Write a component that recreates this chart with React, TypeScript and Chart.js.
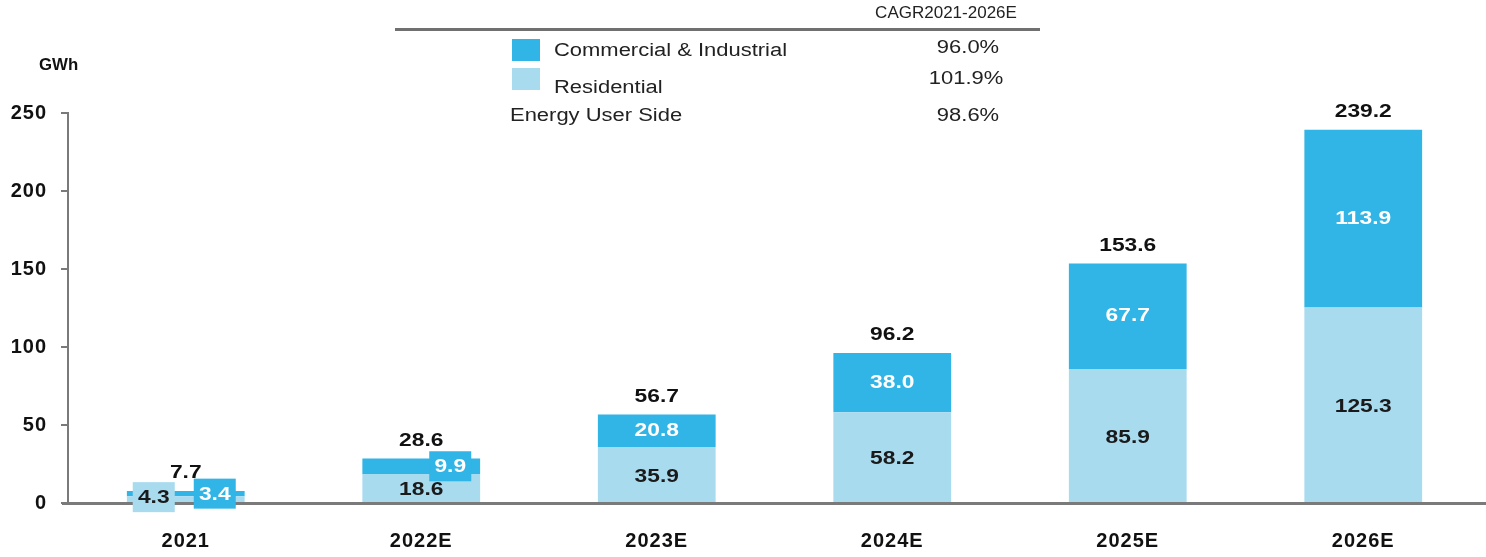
import React, { useEffect, useRef } from "react";
import { Chart, registerables } from "chart.js";

Chart.register(...registerables);

const categories = ["2021", "2022E", "2023E", "2024E", "2025E", "2026E"];
const residential = [4.3, 18.6, 35.9, 58.2, 85.9, 125.3];
const commercial = [3.4, 9.9, 20.8, 38.0, 67.7, 113.9];
const totals = [7.7, 28.6, 56.7, 96.2, 153.6, 239.2];
const yMax = 250;
const yStep = 50;
const unitLabel = "GWh";
const cagrTitle = "CAGR2021-2026E";
const legendLabels = ["Commercial & Industrial", "Residential", "Energy User Side"];
const cagrValues = ["96.0%", "101.9%", "98.6%"];

const C_COLOR = "#31B4E6";
const R_COLOR = "#A9DBEF";
const FONT = "'Liberation Sans', Arial, sans-serif";
const SX = 1.2;

function drawText(
  ctx: CanvasRenderingContext2D,
  text: string,
  x: number,
  y: number,
  font: string,
  color: string,
  align: CanvasTextAlign,
  sx: number
) {
  ctx.save();
  ctx.font = font;
  ctx.fillStyle = color;
  ctx.textAlign = align;
  ctx.textBaseline = "middle";
  ctx.translate(x, y);
  ctx.scale(sx, 1);
  ctx.fillText(text, 0, 0);
  ctx.restore();
}

const labelPlugin = {
  id: "labelPlugin",
  beforeDraw(chart: any) {
    (chart.ctx as any).letterSpacing = "1px";
  },
  afterDatasetsDraw(chart: any) {
    const ctx = chart.ctx;
    const metaR = chart.getDatasetMeta(0);
    const metaC = chart.getDatasetMeta(1);
    const area = chart.chartArea;
    ctx.save();
    (ctx as any).letterSpacing = "0px";
    ctx.strokeStyle = "#7a7a7a";
    ctx.lineWidth = 3;
    ctx.beginPath();
    ctx.moveTo(area.left - 6, area.bottom + 0.5);
    ctx.lineTo(chart.width, area.bottom + 0.5);
    ctx.stroke();

    const f = `bold 19px ${FONT}`;
    const boxed = (text: string, cx: number, cy: number, bg: string, fg: string) => {
      ctx.fillStyle = bg;
      ctx.fillRect(cx - 21, cy - 15, 42, 30);
      drawText(ctx, text, cx, cy + 1, f, fg, "center", SX);
    };
    for (let i = 0; i < categories.length; i++) {
      const r = metaR.data[i];
      const c = metaC.data[i];
      const rh = r.base - r.y;
      const ch = c.base - c.y;
      if (rh >= 18) {
        drawText(ctx, residential[i].toFixed(1), r.x, (r.y + r.base) / 2 + 2, f, "#1a1a1a", "center", SX);
      } else {
        boxed(residential[i].toFixed(1), r.x - 32, (r.y + r.base) / 2 - 2, R_COLOR, "#1a1a1a");
      }
      if (ch >= 18) {
        drawText(ctx, commercial[i].toFixed(1), c.x, (c.y + c.base) / 2, f, "#ffffff", "center", SX);
      } else {
        boxed(commercial[i].toFixed(1), c.x + 29, (c.y + c.base) / 2, C_COLOR, "#ffffff");
      }
      drawText(ctx, totals[i].toFixed(1), c.x, c.y - 18, f, "#111111", "center", SX);
    }
    ctx.restore();
  },
  afterDraw(chart: any) {
    const ctx = chart.ctx;
    ctx.save();
    (ctx as any).letterSpacing = "0px";
    drawText(ctx, unitLabel, 39, 66, `bold 16px ${FONT}`, "#111111", "left", 1.05);
    drawText(ctx, cagrTitle, 946, 13, `17px ${FONT}`, "#222222", "center", 1);

    ctx.strokeStyle = "#707070";
    ctx.lineWidth = 3;
    ctx.beginPath();
    ctx.moveTo(395, 29.5);
    ctx.lineTo(1040, 29.5);
    ctx.stroke();

    ctx.fillStyle = C_COLOR;
    ctx.fillRect(512, 39, 28, 22);
    ctx.fillStyle = R_COLOR;
    ctx.fillRect(512, 68, 28, 22);

    const lf = `18px ${FONT}`;
    drawText(ctx, legendLabels[0], 554, 51, lf, "#222222", "left", 1.22);
    drawText(ctx, legendLabels[1], 554, 88, lf, "#222222", "left", 1.22);
    drawText(ctx, legendLabels[2], 510, 116, lf, "#222222", "left", 1.22);
    drawText(ctx, cagrValues[0], 968, 48, lf, "#222222", "center", 1.22);
    drawText(ctx, cagrValues[1], 966, 79, lf, "#222222", "center", 1.22);
    drawText(ctx, cagrValues[2], 968, 116, lf, "#222222", "center", 1.22);
    ctx.restore();
  },
};

export default function App() {
  const ref = useRef<HTMLCanvasElement | null>(null);
  useEffect(() => {
    if (!ref.current) return;
    const chart = new Chart(ref.current, {
      type: "bar",
      data: {
        labels: categories,
        datasets: [
          {
            label: legendLabels[1],
            data: residential,
            backgroundColor: R_COLOR,
            borderWidth: 0,
            barPercentage: 0.5,
            categoryPercentage: 1,
          },
          {
            label: legendLabels[0],
            data: commercial,
            backgroundColor: C_COLOR,
            borderWidth: 0,
            barPercentage: 0.5,
            categoryPercentage: 1,
          },
        ],
      },
      options: {
        animation: false,
        responsive: false,
        maintainAspectRatio: false,
        layout: { padding: { top: 113, right: 5, left: 0, bottom: 0 } },
        plugins: { legend: { display: false }, tooltip: { enabled: false } },
        scales: {
          x: {
            stacked: true,
            grid: { display: false, drawTicks: false },
            border: { display: false },
            ticks: {
              padding: 26,
              color: "#111111",
              font: { family: FONT, size: 20, weight: "bold" },
            },
            afterFit: (s: any) => {
              s.height = 54;
            },
          },
          y: {
            stacked: true,
            min: 0,
            max: yMax,
            ticks: {
              stepSize: yStep,
              padding: 14,
              color: "#111111",
              font: { family: FONT, size: 20, weight: "bold" },
            },
            grid: {
              drawOnChartArea: false,
              drawTicks: true,
              tickLength: 7,
              color: "#7a7a7a",
              lineWidth: 2,
            },
            border: { display: true, color: "#7a7a7a", width: 2 },
            afterFit: (s: any) => {
              s.width = 68;
            },
          },
        },
      },
      plugins: [labelPlugin],
    });
    return () => chart.destroy();
  }, []);
  return (
    <div style={{ position: "fixed", left: 0, top: 0, width: 1486, height: 557, background: "#fff" }}>
      <canvas ref={ref} width={1486} height={557} style={{ width: 1486, height: 557 }} />
    </div>
  );
}
